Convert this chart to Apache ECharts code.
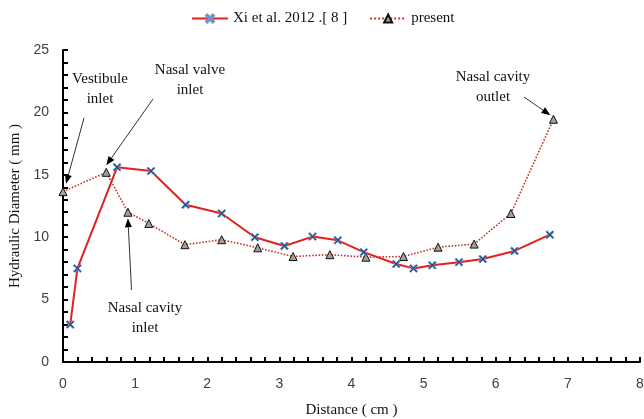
<!DOCTYPE html>
<html>
<head>
<meta charset="utf-8">
<script src="https://cdn.jsdelivr.net/npm/echarts@6/dist/echarts.min.js"></script>
<style>
html, body { margin: 0; padding: 0; background: #fff; }
#chart { width: 644px; height: 419px; }
</style>
</head>
<body>
<div id="chart"></div>
<script>
// Hydraulic diameter along the nasal passage
const xiDistance = [0.1, 0.2, 0.75, 1.22, 1.7, 2.2, 2.66, 3.07, 3.46, 3.81, 4.17, 4.62, 4.86, 5.12, 5.49, 5.82, 6.26, 6.75];
const xiDiameter = [3.0, 7.5, 15.6, 15.3, 12.6, 11.9, 10.0, 9.3, 10.05, 9.75, 8.8, 7.85, 7.5, 7.75, 8.0, 8.25, 8.9, 10.2];

const presentDistance = [0, 0.6, 0.9, 1.19, 1.69, 2.2, 2.7, 3.19, 3.7, 4.2, 4.72, 5.2, 5.7, 6.21, 6.8];
const presentDiameter = [13.65, 15.2, 12.0, 11.1, 9.4, 9.8, 9.15, 8.45, 8.6, 8.4, 8.45, 9.2, 9.45, 11.9, 19.45];

const seriesNames = ['Xi et al. 2012 .[ 8 ]', 'present'];
const xTicks = [0, 1, 2, 3, 4, 5, 6, 7, 8];
const yTicks = [0, 5, 10, 15, 20, 25];

// Labelled locations: text lines, text anchor, arrow tail, and the point the arrow reaches
const notes = [
  { lines: ['Vestibule', 'inlet'], at: [100, 79], tail: [84, 118], target: [0, 13.65], offset: [3, -8] },
  { lines: ['Nasal valve', 'inlet'], at: [190, 70], tail: [153, 99], target: [0.6, 15.2], offset: [0, -7] },
  { lines: ['Nasal cavity', 'inlet'], at: [145, 308], tail: [131.5, 290], target: [0.9, 12.0], offset: [0, 6] },
  { lines: ['Nasal cavity', 'outlet'], at: [493, 77], tail: [524, 97], target: [6.8, 19.45], offset: [-3, -4] }
];

const serif = '"Liberation Serif", "Times New Roman", serif';
const sans = '"Liberation Sans", Arial, sans-serif';

const pair = (xs, ys) => xs.map((x, i) => [x, ys[i]]);

const crossMark = 'path://M0,1.5 L1.5,0 L5,3.5 L8.5,0 L10,1.5 L6.5,5 L10,8.5 L8.5,10 L5,6.5 L1.5,10 L0,8.5 L3.5,5 Z';

const chart = echarts.init(document.getElementById('chart'));

const axisCommon = {
  axisLine: { show: true, lineStyle: { color: '#000', width: 2 } },
  axisTick: { show: true, inside: true, length: 5, lineStyle: { color: '#000', width: 2 } },
  minorTick: { show: true, splitNumber: 5, length: 5, lineStyle: { color: '#000', width: 2 } },
  splitLine: { show: false },
  nameTextStyle: { fontFamily: serif, fontSize: 15, color: '#111' }
};

chart.setOption({
  animation: false,
  backgroundColor: '#fff',
  legend: {
    top: 6,
    left: 186,
    itemWidth: 36,
    itemHeight: 10,
    itemGap: 22,
    textStyle: { fontFamily: serif, fontSize: 15, color: '#111' },
    data: seriesNames
  },
  grid: { left: 63, right: 4, top: 50, bottom: 57, containLabel: false, outerBoundsMode: 'none' },
  xAxis: Object.assign({}, axisCommon, {
    type: 'value',
    min: xTicks[0],
    max: xTicks[xTicks.length - 1],
    interval: 1,
    name: 'Distance ( cm )',
    nameLocation: 'middle',
    nameGap: 41,
    axisLabel: { margin: 15, fontFamily: sans, fontSize: 14, color: '#404040' }
  }),
  yAxis: Object.assign({}, axisCommon, {
    type: 'value',
    min: yTicks[0],
    max: yTicks[yTicks.length - 1],
    interval: 5,
    name: 'Hydraulic Diameter ( mm )',
    nameLocation: 'middle',
    nameGap: 32,
    axisLabel: { margin: 14, fontFamily: sans, fontSize: 14, color: '#404040' }
  }),
  series: [
    {
      name: seriesNames[0],
      type: 'line',
      data: pair(xiDistance, xiDiameter),
      symbol: crossMark,
      symbolSize: 8,
      lineStyle: { color: '#e0211f', width: 2 },
      itemStyle: { color: '#24426e', borderColor: '#6f95c9', borderWidth: 1 },
      z: 3
    },
    {
      name: seriesNames[1],
      type: 'line',
      data: pair(presentDistance, presentDiameter),
      symbol: 'triangle',
      symbolSize: 8,
      lineStyle: { color: '#c0392b', width: 1.6, type: 'dotted' },
      itemStyle: { color: '#a0a0a0', borderColor: '#111', borderWidth: 1 },
      z: 2
    }
  ]
});

// Annotation text and arrows, with arrow heads placed at the plotted points
function arrowElements(tail, head) {
  const dx = head[0] - tail[0], dy = head[1] - tail[1];
  const len = Math.sqrt(dx * dx + dy * dy);
  const ux = dx / len, uy = dy / len;
  const hl = 9, hw = 3.5;
  const bx = head[0] - ux * hl, by = head[1] - uy * hl;
  return [
    { type: 'line', shape: { x1: tail[0], y1: tail[1], x2: bx, y2: by }, style: { stroke: '#333', lineWidth: 1 }, z: 10 },
    { type: 'polygon', shape: { points: [head, [bx - uy * hw, by + ux * hw], [bx + uy * hw, by - ux * hw]] }, style: { fill: '#000' }, z: 10 }
  ];
}

const elements = [];
notes.forEach(n => {
  const p = chart.convertToPixel({ gridIndex: 0 }, n.target);
  const head = [p[0] + n.offset[0], p[1] + n.offset[1]];
  elements.push(...arrowElements(n.tail, head));
  n.lines.forEach((line, i) => {
    elements.push({
      type: 'text', x: n.at[0], y: n.at[1] + i * 20, z: 10,
      style: { text: line, fontFamily: serif, fontSize: 15, fill: '#111', align: 'center', verticalAlign: 'middle' }
    });
  });
});
chart.setOption({ graphic: elements });
</script>
</body>
</html>
